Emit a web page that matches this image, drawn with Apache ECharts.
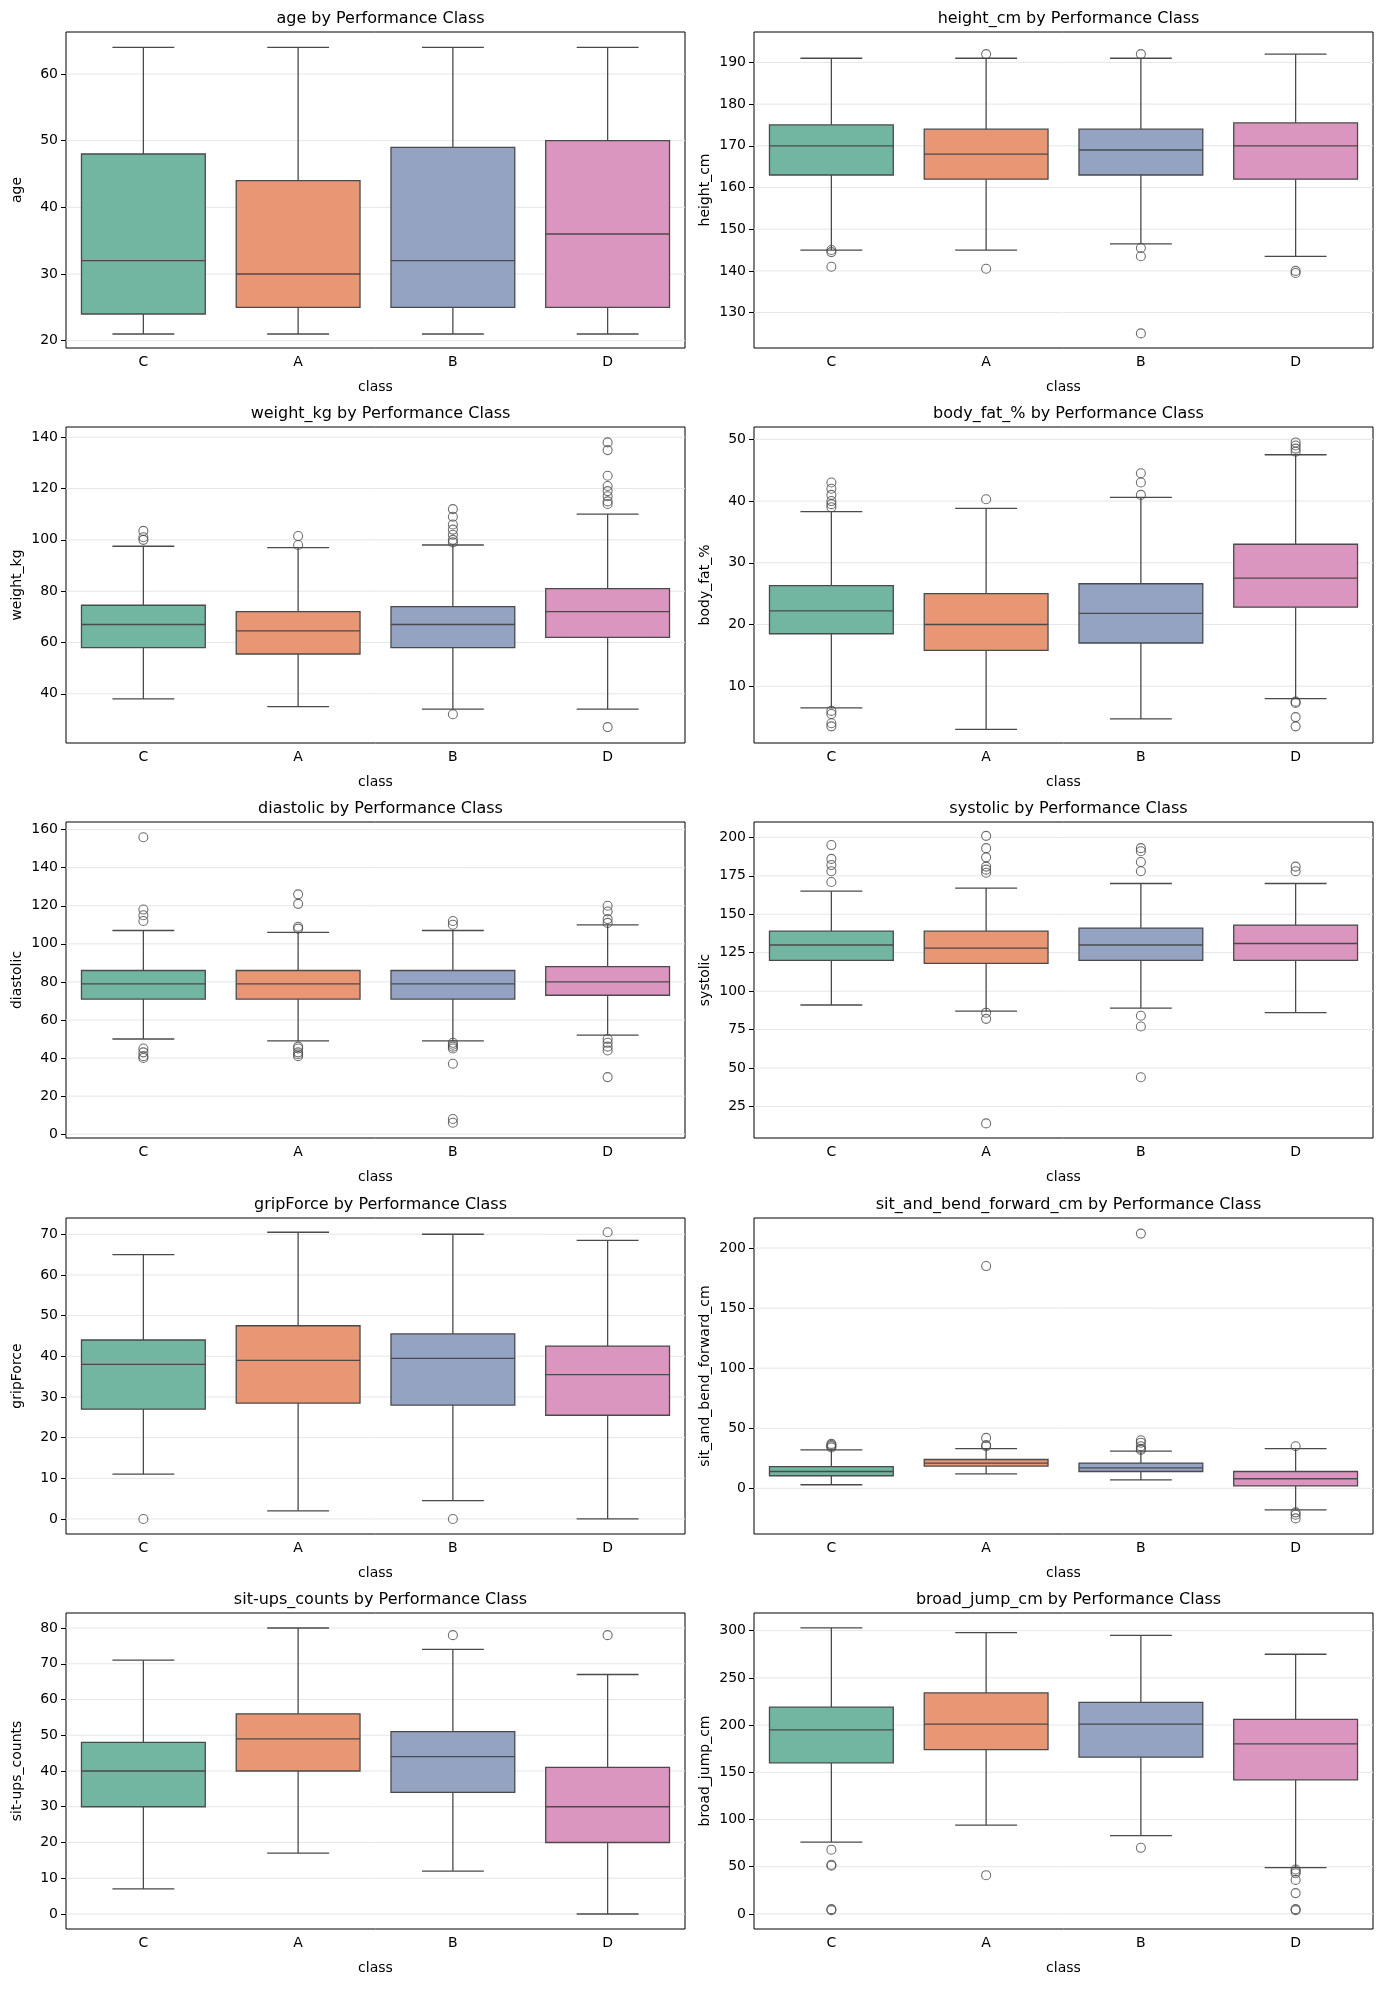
<!DOCTYPE html>
<html><head><meta charset="utf-8">
<script src="https://cdn.jsdelivr.net/npm/echarts@6/dist/echarts.min.js"></script>
<style>html,body{margin:0;padding:0;background:#fff}#c{width:1389px;height:1990px}</style>
</head><body><div id="c"></div>
<script>
const categories = ['C','A','B','D'];
const features = ['age','height_cm','weight_kg','body_fat_%','diastolic','systolic','gripForce','sit_and_bend_forward_cm','sit-ups_counts','broad_jump_cm'];
// [min whisker, Q1, median, Q3, max whisker] per class C, A, B, D
const boxes = {
 'age': [[21,24,32,48,64],[21,25,30,44,64],[21,25,32,49,64],[21,25,36,50,64]],
 'height_cm': [[145,163,170,175,191],[145,162,168,174,191],[146.5,163,169,174,191],[143.5,162,170,175.5,192]],
 'weight_kg': [[38,58,67,74.5,97.5],[35,55.5,64.5,72,97],[34,58,67,74,98],[34,62,72,81,110]],
 'body_fat_%': [[6.5,18.5,22.2,26.3,38.3],[3,15.8,20,25,38.8],[4.7,17,21.8,26.6,40.6],[8,22.8,27.5,33,47.5]],
 'diastolic': [[50,71,79,86,107],[49,71,79,86,106],[49,71,79,86,107],[52,73,80,88,110]],
 'systolic': [[91,120,130,139,165],[87,118,128,139,167],[89,120,130,141,170],[86,120,131,143,170]],
 'gripForce': [[11,27,38,44,65],[2,28.5,39,47.5,70.5],[4.5,28,39.5,45.5,70],[0,25.5,35.5,42.5,68.5]],
 'sit_and_bend_forward_cm': [[3,10.5,14,18,32],[12,18.5,21,24,33],[7,14,17,21,31],[-18,2,8,14,33]],
 'sit-ups_counts': [[7,30,40,48,71],[17,40,49,56,80],[12,34,44,51,74],[0,20,30,41,67]],
 'broad_jump_cm': [[76,160,195,219,303],[94,174,201,234,298],[83,166,201,224,295],[49,142,180,206,275]]
};
// outliers per class C, A, B, D
const outliers = {
 'age': [[],[],[],[]],
 'height_cm': [[141,144.5,145],[192,140.5],[192,145.5,143.5,125],[140,139.5]],
 'weight_kg': [[100,101,103.5],[98,101.5],[99,100,102,104,106,109,112,32],[114,115,117,119,121,125,135,138,27]],
 'body_fat_%': [[39,39.5,40,41,42,43,6,5.5,4,3.5],[40.3],[41,43,44.5],[48,48.5,49,49.5,7.5,7.3,5,3.5]],
 'diastolic': [[156,118,115,112,45,43,41,40],[126,121,109,108,46,45,43,42,41],[112,110,48,47,46,45,37,8,6],[120,117,113,111,50,48,46,44,30]],
 'systolic': [[171,178,182,186,195],[177,179,181,187,193,201,86,82,14],[178,184,191,193,84,77,44],[178,181]],
 'gripForce': [[0],[],[0],[70.5]],
 'sit_and_bend_forward_cm': [[34,35,36,37],[35,36,42,185],[32,33,35,38,40,212],[35,-20,-22,-25]],
 'sit-ups_counts': [[],[],[78],[78]],
 'broad_jump_cm': [[68,52,51,5,4],[41],[70],[47,45,43,36,22,5,4]]
};
// axis extent [min,max] and tick labels
const yRange = {
 'age':[18.9,66.3],'height_cm':[121.5,197.3],'weight_kg':[20.8,144],'body_fat_%':[0.8,52],
 'diastolic':[-2,164],'systolic':[4.5,210],'gripForce':[-3.7,74],'sit_and_bend_forward_cm':[-38,225],
 'sit-ups_counts':[-4.2,84.2],'broad_jump_cm':[-16,318.7]
};
const yTicks = {
 'age':[20,30,40,50,60],'height_cm':[130,140,150,160,170,180,190],'weight_kg':[40,60,80,100,120,140],
 'body_fat_%':[10,20,30,40,50],'diastolic':[0,20,40,60,80,100,120,140,160],
 'systolic':[25,50,75,100,125,150,175,200],'gripForce':[0,10,20,30,40,50,60,70],
 'sit_and_bend_forward_cm':[0,50,100,150,200],'sit-ups_counts':[0,10,20,30,40,50,60,70,80],
 'broad_jump_cm':[0,50,100,150,200,250,300]
};
const colors = ['#72b6a1','#e99675','#95a3c3','#db96c0'];
const edge = '#4a4a4a';
const font = 'DejaVu Sans';

const lefts = [66, 754], width = 619, tops = [32,427,822,1218,1613], height = 316;
const option = {animation:false, backgroundColor:'#fff', title:[], grid:[], xAxis:[], yAxis:[], series:[]};
features.forEach((f,i)=>{
  const col = i%2, row = Math.floor(i/2);
  const L = lefts[col], T = tops[row];
  option.title.push({text:f+' by Performance Class', left:L+width/2, top:T-26, textAlign:'center',
    textStyle:{fontFamily:font,fontSize:16,fontWeight:'normal',color:'#000'}});
  option.grid.push({left:L, top:T, width:width, height:height, show:true, borderColor:'#000', borderWidth:1});
  option.xAxis.push({type:'category', gridIndex:i, data:categories, name:'class', nameLocation:'middle', nameGap:32,
    nameTextStyle:{fontFamily:font,fontSize:14,color:'#000'},
    axisLine:{show:false}, axisTick:{alignWithLabel:true,length:5,lineStyle:{color:'#000'}},
    axisLabel:{fontFamily:font,fontSize:14,color:'#000',margin:7}});
  option.yAxis.push({type:'value', gridIndex:i, min:yRange[f][0], max:yRange[f][1], name:f, nameLocation:'middle', nameGap:42,
    nameTextStyle:{fontFamily:font,fontSize:14,color:'#000'},
    axisLine:{show:false},
    axisTick:{show:true,length:5,lineStyle:{color:'#000'},customValues:yTicks[f]},
    axisLabel:{fontFamily:font,fontSize:14,color:'#000',customValues:yTicks[f],margin:8},
    splitLine:{show:false}});
  option.series.push({type:'custom', xAxisIndex:i, yAxisIndex:i, silent:true, z:0,
    data:yTicks[f].map(v=>[v]),
    renderItem:(p,api)=>{
      const y = api.coord([0,api.value(0)])[1];
      return {type:'line', shape:{x1:L,y1:y,x2:L+width,y2:y}, style:{stroke:'#e6e6e6',lineWidth:1}};
    }});
  option.series.push({type:'custom', xAxisIndex:i, yAxisIndex:i, z:2,
    data:boxes[f].map((b,k)=>[k].concat(b)),
    renderItem:(p,api)=>{
      const k = api.value(0);
      const pMin=api.coord([k,api.value(1)]), q1=api.coord([k,api.value(2)]), med=api.coord([k,api.value(3)]),
            q3=api.coord([k,api.value(4)]), pMax=api.coord([k,api.value(5)]);
      const bw = api.size([1,0])[0]*0.8, x=pMin[0];
      const ls={stroke:edge,lineWidth:1.3};
      return {type:'group', children:[
        {type:'line', shape:{x1:x,y1:pMax[1],x2:x,y2:q3[1]}, style:ls},
        {type:'line', shape:{x1:x,y1:q1[1],x2:x,y2:pMin[1]}, style:ls},
        {type:'line', shape:{x1:x-bw/4,y1:pMax[1],x2:x+bw/4,y2:pMax[1]}, style:ls},
        {type:'line', shape:{x1:x-bw/4,y1:pMin[1],x2:x+bw/4,y2:pMin[1]}, style:ls},
        {type:'rect', shape:{x:x-bw/2,y:q3[1],width:bw,height:q1[1]-q3[1]}, style:{fill:colors[k],stroke:edge,lineWidth:1.3}},
        {type:'line', shape:{x1:x-bw/2,y1:med[1],x2:x+bw/2,y2:med[1]}, style:ls}
      ]};
    }});
  const pts=[];
  outliers[f].forEach((arr,k)=>arr.forEach(v=>pts.push([k,v])));
  option.series.push({type:'scatter', xAxisIndex:i, yAxisIndex:i, z:3, data:pts, symbol:'circle', symbolSize:9,
    itemStyle:{color:'rgba(0,0,0,0)',borderColor:edge,borderWidth:1.1}});
});
const chart = echarts.init(document.getElementById('c'), null, {renderer:'canvas'});
chart.setOption(option);
</script></body></html>
